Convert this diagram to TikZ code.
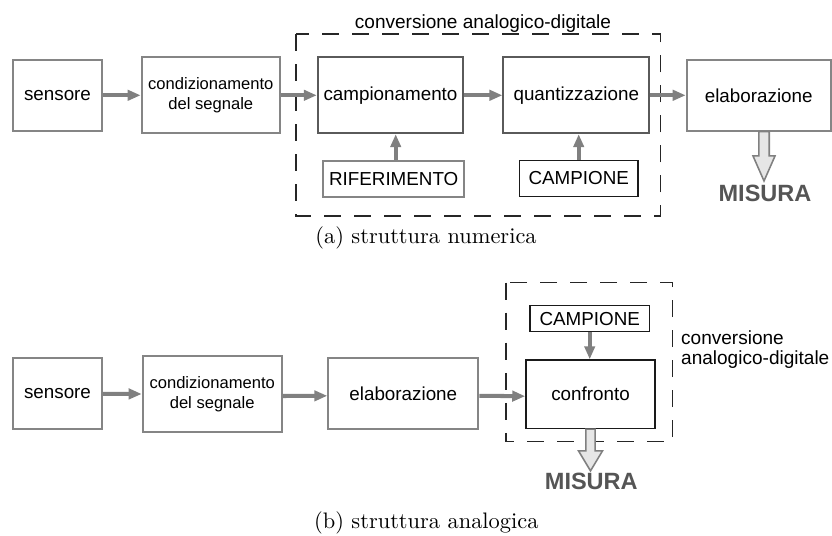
\documentclass[tikz,border=0pt]{standalone}
\usepackage{fontspec}
\newfontfamily\arialf{Liberation Sans}
\usetikzlibrary{arrows.meta,calc}
\def\PX{0.4464pt}
\definecolor{bgray}{HTML}{858585}
\definecolor{bdark}{HTML}{5A5A5A}
\definecolor{bblack}{HTML}{1A1A1A}
\definecolor{agray}{HTML}{808080}
\definecolor{hfill}{HTML}{E6E6E6}
\definecolor{mgray}{HTML}{555555}
\tikzset{
  box/.style={draw=bgray, line width=0.9pt, inner sep=0pt, align=center,
    font=\arialf\fontsize{8.4pt}{10pt}\selectfont},
  darkbox/.style={box, draw=bdark, line width=0.8pt},
  blackbox/.style={box, draw=bblack, line width=0.7pt},
  sz/.style 2 args={minimum width=#1*\PX, minimum height=#2*\PX},
  flow/.style={draw=agray, line width=1.8pt, -{Triangle[length=5.8pt,width=4.6pt]}},
  hollow/.style={draw=agray, fill=hfill, line width=0.7pt, line join=miter},
  dashbox/.style={draw=black!85, line width=0.5pt, dash pattern=on 7.6pt off 5.8pt},
  misura/.style={text=mgray, font=\arialf\bfseries\fontsize{10.5pt}{12pt}\selectfont, inner sep=0pt},
  lab/.style={font=\arialf\fontsize{8.5pt}{8.9pt}\selectfont, inner sep=0pt, align=left},
  capt/.style={font=\normalsize, inner sep=0pt}
}
\begin{document}
\begin{tikzpicture}[x=0.4464pt,y=-0.4464pt]
\useasboundingbox (0,0) rectangle (832,536);

% ---------- (a) ----------
\draw[dashbox] (296,34) rectangle (660.7,216);
\node[lab, anchor=base] (la) at (483,28.3) {conversione analogico-digitale};

\node[box, sz={88.4}{70.7}] (A1) at (57.5,95.3) {sensore};
\node[box, sz={138.3}{76}, font=\arialf\fontsize{7.4pt}{8.9pt}\selectfont] (A2) at (210.8,95.3) {condizionamento\\del segnale};
\node[darkbox, sz={145.6}{76}] (A3) at (390.5,95.3) {campionamento};
\node[darkbox, sz={146}{76}] (A4) at (576.3,95.3) {quantizzazione};
\node[box, sz={144}{70.7}] (A5) at (758.7,95.3) {elaborazione};
\node[box, sz={140.7}{35.7}] (A6) at (393.7,178.8) {RIFERIMENTO};
\node[blackbox, sz={118.7}{36.4}] (A7) at (578.7,178.5) {CAMPIONE};

\draw[flow] (A1.east) -- (A2.west);
\draw[flow] (A2.east) -- (A3.west);
\draw[flow] (A3.east) -- (A4.west);
\draw[flow] (A4.east) -- (A5.west);
\draw[flow] ($(A6.north)+(2,0)$) -- ($(A6.north |- A3.south)+(2,0)$);
\draw[flow] (A7.north) -- (A7.north |- A4.south);

\coordinate (ha) at ($(A5.south)+(5.3,0)$);
\draw[hollow] ($(ha)+(-5.2,0)$) -- ++(0,24.3) -- ++(-5.8,0) -- ($(ha)+(0,49.3)$)
  -- ($(ha)+(11,24.3)$) -- ++(-5.8,0) -- ($(ha)+(5.2,0)$) -- cycle;
\node[misura] (Ma) at (765,193.3) {MISURA};

\node[capt] (ca) at (426,238) {(a) struttura numerica};

% ---------- (b) ----------
\draw[dashbox] (506,282.7) rectangle (672.7,441.7);
\node[lab, anchor=west] (lb) at (680.7,350) {conversione\\analogico-digitale};

\node[box, sz={88.4}{71}] (B1) at (57.5,393.8) {sensore};
\node[box, sz={139}{76}, font=\arialf\fontsize{7.4pt}{8.9pt}\selectfont] (B2) at (212.2,394) {condizionamento\\del segnale};
\node[box, sz={150}{71}] (B3) at (403.3,393.8) {elaborazione};
\node[blackbox, sz={129}{68.3}] (B4) at (590.5,394.2) {confronto};
\node[blackbox, sz={119.3}{26}] (B5) at (589.7,318.7) {CAMPIONE};

\draw[flow] (B1.east) -- (B2.west);
\draw[flow] ($(B2.east)+(0,2)$) -- ($(B3.west)+(0,2)$);
\draw[flow] ($(B3.east)+(0,2)$) -- ($(B4.west)+(0,2)$);
\draw[flow] (B5.south) -- (B5.south |- B4.north);

\coordinate (hb) at (B4.south);
\draw[hollow] ($(hb)+(-4.65,0)$) -- ++(0,21.7) -- ++(-7.35,0) -- ($(hb)+(0,41.7)$)
  -- ($(hb)+(12,21.7)$) -- ++(-7.35,0) -- ($(hb)+(4.65,0)$) -- cycle;
\node[misura] (Mb) at (591.3,481.7) {MISURA};

\node[capt] (cb) at (426.3,523) {(b) struttura analogica};
\end{tikzpicture}
\end{document}
